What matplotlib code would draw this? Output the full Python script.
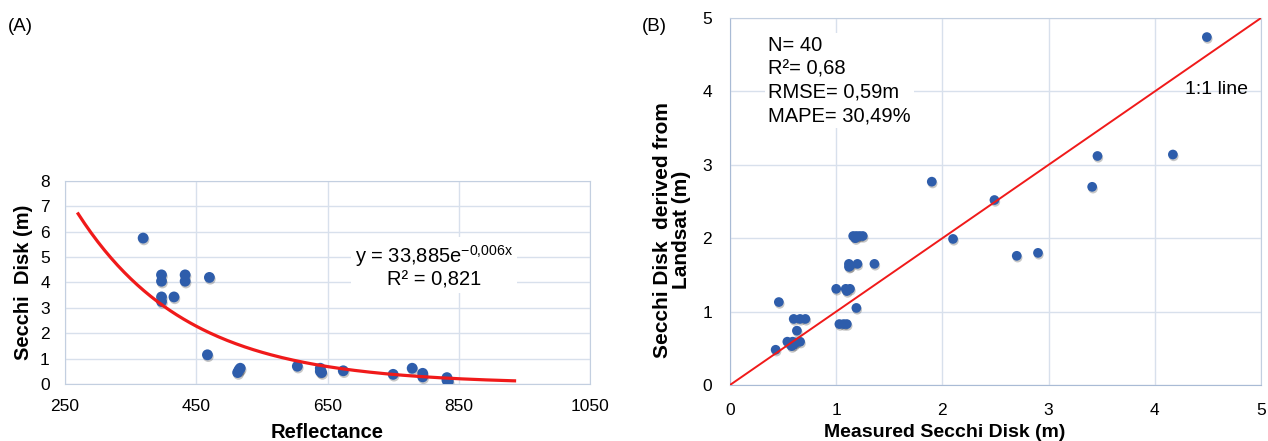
import numpy as np
import matplotlib
matplotlib.use("Agg")
import matplotlib.pyplot as plt
import matplotlib.patheffects as pe

plt.rcParams['font.family'] = ['Liberation Sans', 'DejaVu Sans']

# Panel A: reflectance vs Secchi disk depth
refl = [369, 397, 397, 397, 397, 416, 433, 433, 470, 467,
        513, 515, 517, 604, 639, 639, 641, 674, 750, 779,
        795, 795, 832, 832, 834]
secchi_a = [5.75, 4.3, 4.05, 3.43, 3.25, 3.43, 4.3, 4.05, 4.2, 1.15,
            0.45, 0.55, 0.62, 0.7, 0.62, 0.5, 0.45, 0.52, 0.38, 0.62,
            0.42, 0.28, 0.25, 0.15, 0.1]
fit_a, fit_b = 33.885, -0.006
fit_range = (270, 935)

# Panel B: measured vs Landsat derived Secchi
measured = [0.46, 0.43, 0.54, 0.59, 0.58, 0.66, 0.63, 0.60, 0.66, 0.71,
            1.00, 1.09, 1.13, 1.03, 1.07, 1.10, 1.19, 1.12, 1.12, 1.20,
            1.36, 1.16, 1.19, 1.22, 1.25, 2.10, 1.90, 4.49, 3.46, 4.17,
            3.41, 2.49, 2.70, 2.90, 0.60, 0.56, 1.18, 1.10, 1.13, 0.62]
derived = [1.13, 0.48, 0.59, 0.59, 0.53, 0.59, 0.74, 0.90, 0.90, 0.90,
           1.31, 1.31, 1.31, 0.83, 0.83, 0.83, 1.05, 1.65, 1.61, 1.65,
           1.65, 2.03, 2.03, 2.03, 2.03, 1.99, 2.77, 4.74, 3.12, 3.14,
           2.70, 2.52, 1.76, 1.80, 0.55, 0.57, 2.00, 1.28, 1.62, 0.58]
stats_lines = ["N= 40", "R²= 0,68", "RMSE= 0,59m", "MAPE= 30,49%"]

dot_color = '#2e5dab'
grid_color = '#d8e0ec'
spine_color = '#c3cfe0'
shadow = [pe.SimplePatchShadow(offset=(0.6, -1.3), shadow_rgbFace='k', alpha=0.22),
          pe.Normal()]

fig = plt.figure(figsize=(12.68, 4.41), dpi=100)

# ---- Panel A ----
ax1 = fig.add_axes([0.0513, 0.1293, 0.4140, 0.4603])
ax1.plot(refl, secchi_a, 'o', color=dot_color, markersize=7.8, mec='none',
         path_effects=shadow, zorder=3)
xf = np.linspace(fit_range[0], fit_range[1], 200)
ax1.plot(xf, fit_a * np.exp(fit_b * xf), color='#f01a1a', lw=2.3, zorder=4)
ax1.set_xlim(250, 1050)
ax1.set_ylim(0, 8)
ax1.set_xticks([250, 450, 650, 850, 1050])
ax1.set_yticks(range(0, 9))
ax1.grid(True, color=grid_color, lw=1.0)
ax1.set_axisbelow(True)
for s in ax1.spines.values():
    s.set_color(spine_color)
ax1.tick_params(length=0, labelsize=12.5, pad=11)
ax1.set_xlabel('Reflectance', fontsize=14.5, fontweight='bold', labelpad=6)
ax1.set_ylabel('Secchi  Disk (m)', fontsize=14.5, fontweight='bold', labelpad=5)
ax1.text(0.703, 0.58, 'y = 33,885e$^{\\mathregular{-0{,}006x}}$\nR² = 0,821',
         transform=ax1.transAxes, ha='center', va='center', fontsize=14.5,
         linespacing=1.05, zorder=5,
         bbox=dict(facecolor='white', edgecolor='none', pad=3))
fig.text(0.006, 0.94, '(A)', fontsize=13.5, va='center')

# ---- Panel B ----
ax2 = fig.add_axes([0.5757, 0.1270, 0.4188, 0.8322])
ax2.plot(measured, derived, 'o', color=dot_color, markersize=7.0, mec='none',
         path_effects=shadow, zorder=3)
ax2.plot([0, 5], [0, 5], color='#f01a1a', lw=1.4, zorder=4)
ax2.set_xlim(0, 5)
ax2.set_ylim(0, 5)
ax2.set_xticks(range(0, 6))
ax2.set_yticks(range(0, 6))
ax2.grid(True, color=grid_color, lw=1.0)
ax2.set_axisbelow(True)
for s in ax2.spines.values():
    s.set_color(spine_color)
ax2.spines['left'].set_color('#a9bbd5')
ax2.spines['bottom'].set_color('#a9bbd5')
ax2.tick_params(length=0, labelsize=12.5, pad=13)
ax2.set_xlabel('Measured Secchi Disk (m)', fontsize=14, fontweight='bold',
               labelpad=4, x=0.405)
fig.text(0.530, 0.478, 'Secchi Disk  derived from\nLandsat (m)', rotation=90,
         ha='center', va='center', fontsize=15, fontweight='bold', linespacing=1.0)
ax2.text(0.072, 0.952, '\n'.join(stats_lines), transform=ax2.transAxes,
         ha='left', va='top', fontsize=14.5, linespacing=1.3, zorder=5,
         bbox=dict(facecolor='white', edgecolor='none', pad=2))
ax2.text(0.917, 0.804, '1:1 line', transform=ax2.transAxes, ha='center',
         va='center', fontsize=14, zorder=5)
fig.text(0.506, 0.94, '(B)', fontsize=13.5, va='center')

fig.savefig('out.png', dpi=100)
